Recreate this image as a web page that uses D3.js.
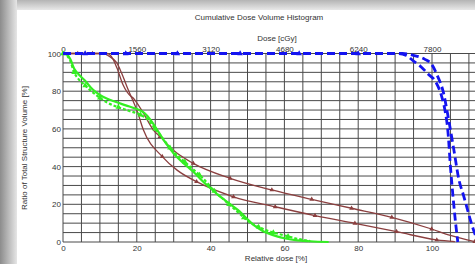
<!DOCTYPE html>
<html>
  <head>
    <meta http-equiv="Content-Type" content="text/html;charset=utf-8">
    <title>Cumulative Dose Volume Histogram</title>
    <script type="text/javascript" src="https://d3js.org/d3.v7.min.js"></script>
    <style>
      html, body { margin: 0; padding: 0; background: #fff; }
      text { font-family: "Liberation Sans", Arial, sans-serif; fill: #333; }
      .grid line { stroke: #4a4a4a; stroke-width: 1; }
      .axis path, .axis line { display: none; }
      .axis text { font-size: 8px; fill: #333; }
      path.line { fill: none; }
    </style>
  </head>
  <body>
  <script type="text/javascript">

// relative dose [%], volume [%], marker flag
var greenSolid = [[0,100],[1,99.5],[2,97],[3,92],[4,89.5],[6,85.5],[8,81],[10,78],[12,76],[14,74.5],[17,72.5],[20,70.5],[22,68.5],[24,64],[26,58],[28,52],[30,47],[32,43],[34,39.5],[36,36],[38,32],[40,28.5],[42,25],[44,22],[46,19],[48,16],[50,12],[52,8.5],[54,6],[56,4.3],[58,3],[60,2],[63,1],[67,0.4],[72,0]];
var greenDot = [[0,100,1],[1,99],[2,96],[3,90,1],[4,87],[6,83,1],[8,79.5],[10,76.5,1],[12,74],[15,71.5,1],[18,69.5],[21,67.5,1],[23,65],[25,60,1],[27,55],[29,50,1],[31,46],[33,42.5,1],[35,39],[37,35.5,1],[39,31.5],[41,27,1],[43,23.5],[45,20,1],[47,16.5],[49,13,1],[51,10],[53,8,1],[55,6.3],[57,5,1],[59,4],[61,3,1],[64,1.5],[67,0.5]];
var brownUpper = [[0,100],[8,100,1],[12,100],[13.6,96.8],[14.6,92.4],[16.3,83.3],[17.3,79.7],[19.5,75.3],[21.8,68.3],[24.5,59.4],[26.3,55.9,1],[30,48.5],[35.3,41.7,1],[45.3,33.8,1],[56.6,27.6,1],[67.4,22.6,1],[78.2,17.9,1],[89.1,13.1,1],[99.9,6.9,1],[105,3.5],[111.6,0.2,1]];
var brownLower = [[0,100],[4,100,1],[11,100],[12.5,98.5],[14.6,95],[15.9,89.5],[17.7,80.6],[20,70],[21.8,59.4],[26.9,45.3,1],[31,38],[36.2,32,1],[46.2,24,1],[57.5,18.7,1],[68.3,14,1],[79.1,9.9,1],[90.4,5.5,1],[101.3,1.1,1],[106.2,0.2]];
var blueA = [[0,100],[6,100,1],[17,100,1],[31,100,1],[48,100,1],[64,100,1],[80,100,1],[90,100],[93,99],[95,96],[97,93],[99,89],[101,85],[102.5,78],[103.5,70],[104.3,59],[105,40],[105.7,24],[106.4,10],[107,0]];
var blueB = [[0,100],[92,100],[95,99],[98,97],[100,94],[101.5,88],[103,80],[104.5,65],[106,48],[107.3,33],[108.5,25],[109.5,18],[110.5,11],[111.5,5],[112.5,0]];

var relTicks = [0, 20, 40, 60, 80, 100];
var doseTicks = [0, 1560, 3120, 4680, 6240, 7800];
var volTicks = [0, 20, 40, 60, 80, 100];

var W = 475, H = 264;
var x0 = 63, x100 = 432, yTop = 53.5, yBot = 242;
var pxPer = (x100 - x0) / 100;

var x = d3.scaleLinear().domain([0, 115]).range([x0, x0 + pxPer * 115]);
var xDose = d3.scaleLinear().domain([0, 7800 * 1.15]).range([x0, x0 + pxPer * 115]);
var y = d3.scaleLinear().domain([0, 100]).range([yBot, yTop]);

var svg = d3.select("body").append("svg").attr("width", W).attr("height", H);

// window shadow
var defs = svg.append("defs");
var gl = defs.append("linearGradient").attr("id", "shL").attr("x1", 0).attr("x2", 1).attr("y1", 0).attr("y2", 0);
gl.append("stop").attr("offset", 0).attr("stop-color", "#8c8c8c");
gl.append("stop").attr("offset", 1).attr("stop-color", "#e6e6e6");
var gt = defs.append("linearGradient").attr("id", "shT").attr("x1", 0).attr("x2", 0).attr("y1", 0).attr("y2", 1);
gt.append("stop").attr("offset", 0).attr("stop-color", "#b4b4b4");
gt.append("stop").attr("offset", 1).attr("stop-color", "#e8e8e8");
svg.append("rect").attr("width", W).attr("height", 10).attr("fill", "url(#shT)");
svg.append("rect").attr("width", 17).attr("height", H).attr("fill", "url(#shL)");
svg.append("rect").attr("x", 17).attr("y", 10).attr("width", W - 17).attr("height", H - 10).attr("fill", "#fff");

// grid
var grid = svg.append("g").attr("class", "grid");
grid.selectAll("line.v").data(d3.range(0, 116, 5)).enter().append("line")
  .attr("x1", d => x(d)).attr("x2", d => x(d)).attr("y1", y(100)).attr("y2", y(0));
grid.selectAll("line.h").data(d3.range(0, 101, 5)).enter().append("line")
  .attr("x1", x(0)).attr("x2", W).attr("y1", d => y(d)).attr("y2", d => y(d));

// axes
svg.append("g").attr("class", "axis").attr("transform", "translate(0," + (yBot + 3) + ")")
  .call(d3.axisBottom(x).tickValues(relTicks).tickSize(0).tickPadding(0).tickFormat(d3.format("d")));
svg.append("g").attr("class", "axis").attr("transform", "translate(0," + (yTop - 2) + ")")
  .call(d3.axisTop(xDose).tickValues(doseTicks).tickSize(0).tickPadding(0).tickFormat(d3.format("d")));
svg.append("g").attr("class", "axis").attr("transform", "translate(" + (x0 - 2) + ",0)")
  .call(d3.axisLeft(y).tickValues(volTicks).tickSize(0).tickPadding(0).tickFormat(d3.format("d")));

// titles
svg.append("text").attr("x", 259).attr("y", 20).attr("text-anchor", "middle").attr("font-size", "8px").text("Cumulative Dose Volume Histogram");
svg.append("text").attr("x", 277).attr("y", 41).attr("text-anchor", "middle").attr("font-size", "8px").text("Dose [cGy]");
svg.append("text").attr("x", 276).attr("y", 261).attr("text-anchor", "middle").attr("font-size", "8px").text("Relative dose [%]");
svg.append("text").attr("transform", "translate(27,148) rotate(-90)").attr("text-anchor", "middle").attr("font-size", "8px").text("Ratio of Total Structure Volume [%]");

var line = d3.line().x(d => x(d[0])).y(d => y(d[1])).curve(d3.curveMonotoneX);

function drawSeries(data, color, width, dash, marker) {
  svg.append("path").attr("class", "line").datum(data)
    .attr("d", line).attr("stroke", color).attr("stroke-width", width)
    .attr("stroke-dasharray", dash);
  svg.selectAll(null).data(data.filter(d => d[2])).enter().append("path")
    .attr("d", d3.symbol().type(d3.symbolTriangle).size(marker))
    .attr("transform", d => "translate(" + x(d[0]) + "," + y(d[1]) + ")")
    .attr("fill", color);
}

drawSeries(brownUpper, "#8b3f3f", 1.3, null, 10);
drawSeries(brownLower, "#8b3f3f", 1.3, null, 10);
drawSeries(greenSolid, "#33ee22", 2.2, null, 0);
drawSeries(greenDot, "#33ee22", 2.2, "3,2", 14);
drawSeries(blueA, "#1414f0", 2.8, "8,4", 14);
drawSeries(blueB, "#1414f0", 2.8, "8,4", 0);

  </script>
  </body>
</html>
